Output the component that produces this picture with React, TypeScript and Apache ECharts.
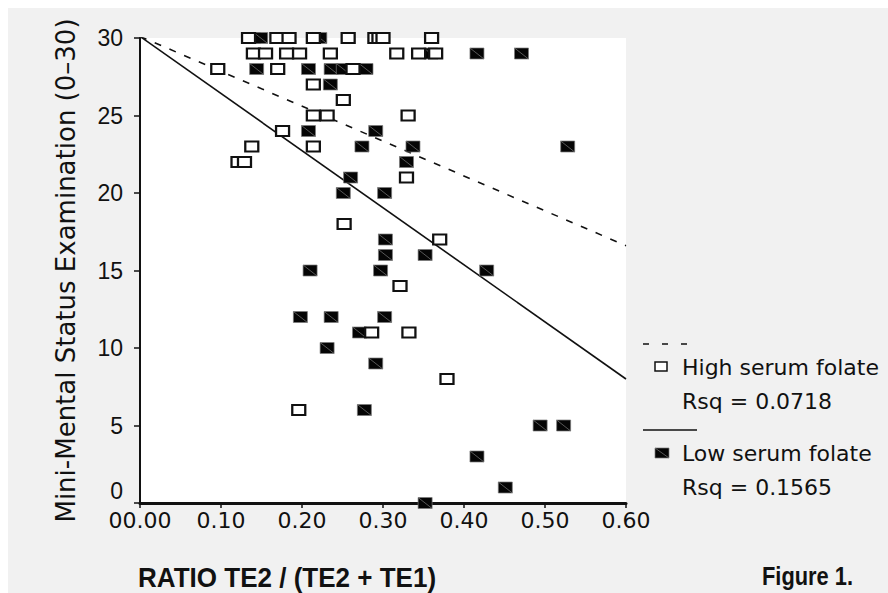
import React, { useEffect, useRef } from "react";
import * as echarts from "echarts";

// High serum folate (open squares): [ratio, MMSE]
const highData: [number, number][] = [
  [0.134, 30], [0.169, 30], [0.184, 30], [0.214, 30], [0.257, 30], [0.29, 30], [0.295, 30], [0.3, 30], [0.36, 30],
  [0.14, 29], [0.155, 29], [0.181, 29], [0.197, 29], [0.235, 29], [0.317, 29], [0.344, 29], [0.365, 29],
  [0.096, 28], [0.17, 28], [0.263, 28],
  [0.214, 27],
  [0.251, 26],
  [0.214, 25], [0.231, 25], [0.331, 25],
  [0.176, 24],
  [0.138, 23], [0.214, 23],
  [0.121, 22], [0.129, 22],
  [0.329, 21],
  [0.252, 18],
  [0.37, 17],
  [0.321, 14],
  [0.286, 11], [0.332, 11],
  [0.379, 8],
  [0.196, 6],
];

// Low serum folate (filled squares)
const lowData: [number, number][] = [
  [0.14, 30], [0.149, 30], [0.222, 30],
  [0.359, 29], [0.416, 29], [0.471, 29],
  [0.144, 28], [0.208, 28], [0.236, 28], [0.251, 28], [0.279, 28],
  [0.235, 27],
  [0.208, 24], [0.291, 24],
  [0.274, 23], [0.337, 23], [0.528, 23],
  [0.329, 22],
  [0.26, 21],
  [0.251, 20], [0.302, 20],
  [0.303, 17],
  [0.303, 16], [0.352, 16],
  [0.21, 15], [0.297, 15], [0.428, 15],
  [0.198, 12], [0.236, 12], [0.302, 12],
  [0.271, 11],
  [0.231, 10],
  [0.291, 9],
  [0.277, 6],
  [0.494, 5], [0.523, 5],
  [0.416, 3],
  [0.451, 1],
  [0.352, 0],
];

// Fitted regression lines (endpoints at x = 0 and x = 0.60)
const fitX = [0, 0.6];
const highFitY = [30.1, 16.6];
const lowFitY = [30.1, 8.0];

const legendTexts = ["High serum folate", "Rsq = 0.0718", "Low serum folate", "Rsq = 0.1565"];
const yTitle = "Mini-Mental Status Examination (0\u201330)";
const xTitle = "RATIO TE2 / (TE2 + TE1)";
const figLabel = "Figure 1.";

const INK = "#111";
const BG = "#f1f1f1";

export default function App() {
  const ref = useRef<HTMLDivElement>(null);

  useEffect(() => {
    if (!ref.current) return;
    const chart = echarts.init(ref.current, null, { renderer: "svg" });
    const legX = 674; // text left in chart coords
    chart.setOption({
      animation: false,
      backgroundColor: BG,
      grid: {
        left: 132,
        top: 30,
        width: 486,
        height: 465,
        show: true,
        backgroundColor: "#ffffff",
        borderWidth: 0,
      },
      xAxis: {
        type: "value",
        min: 0,
        max: 0.6,
        interval: 0.1,
        splitLine: { show: false },
        axisLine: { show: true, onZero: false, lineStyle: { color: INK, width: 3 } },
        axisTick: { show: true, length: 5, lineStyle: { color: INK, width: 1.5 } },
        axisLabel: {
          margin: 6,
          color: INK,
          fontFamily: "DejaVu Sans",
          fontSize: 22,
          formatter: (v: number) => (v === 0 ? "00.00" : v.toFixed(2)),
        },
      },
      yAxis: {
        type: "value",
        min: 0,
        max: 30,
        interval: 5,
        splitLine: { show: false },
        axisLine: { show: true, onZero: false, lineStyle: { color: INK, width: 2 } },
        axisTick: { show: true, length: 6, lineStyle: { color: INK, width: 1.5 } },
        axisLabel: {
          margin: 17,
          color: INK,
          fontFamily: "Liberation Sans",
          fontSize: 23,
          formatter: (v: number) => (v === 0 ? "{z|0}" : String(v)),
          rich: {
            z: { padding: [0, 0, 24, 0], fontFamily: "Liberation Sans", fontSize: 23, color: INK },
          },
        },
        name: yTitle,
        nameLocation: "middle",
        nameGap: 61,
        nameTextStyle: { fontFamily: "DejaVu Sans", fontSize: 26, color: INK },
      },
      series: [
        {
          type: "line",
          data: fitX.map((x, i) => [x, highFitY[i]]),
          symbol: "none",
          silent: true,
          z: 1,
          lineStyle: { color: INK, width: 1.6, type: [7, 9] },
        },
        {
          type: "line",
          data: fitX.map((x, i) => [x, lowFitY[i]]),
          symbol: "none",
          silent: true,
          z: 1,
          lineStyle: { color: INK, width: 1.6, type: "solid" },
        },
        {
          type: "scatter",
          data: lowData,
          clip: false,
          z: 3,
          symbol: "path://M0 0H14V11H0Z M0 0L14 11",
          symbolSize: [14, 11],
          itemStyle: { color: "#050505", borderColor: "#7a7a7a", borderWidth: 0.7, opacity: 1 },
        },
        {
          type: "scatter",
          data: highData,
          clip: false,
          z: 4,
          symbol: "rect",
          symbolSize: [13, 10],
          itemStyle: { color: "#ffffff", borderColor: INK, borderWidth: 2, opacity: 1 },
        },
      ],
      graphic: [
        // legend: dashed line sample
        { type: "line", shape: { x1: 635, y1: 336, x2: 681, y2: 336 }, style: { stroke: INK, lineWidth: 1.5, lineDash: [6, 13] } },
        { type: "rect", shape: { x: 647, y: 354, width: 12, height: 9 }, style: { fill: "#fff", stroke: INK, lineWidth: 1.5 } },
        { type: "text", x: legX, y: 359, style: { text: legendTexts[0], fill: INK, fontFamily: "DejaVu Sans", fontSize: 22, verticalAlign: "middle", align: "left" } },
        { type: "text", x: legX, y: 393, style: { text: legendTexts[1], fill: INK, fontFamily: "DejaVu Sans", fontSize: 22, verticalAlign: "middle", align: "left" } },
        // legend: solid line sample
        { type: "line", shape: { x1: 635, y1: 422, x2: 689, y2: 422 }, style: { stroke: INK, lineWidth: 1.5 } },
        { type: "rect", shape: { x: 647, y: 440, width: 14, height: 10 }, style: { fill: "#050505", stroke: "#7a7a7a", lineWidth: 0.7 } },
        { type: "line", shape: { x1: 647, y1: 440, x2: 661, y2: 450 }, style: { stroke: "#7a7a7a", lineWidth: 0.7 } },
        { type: "text", x: legX, y: 445, style: { text: legendTexts[2], fill: INK, fontFamily: "DejaVu Sans", fontSize: 22, verticalAlign: "middle", align: "left" } },
        { type: "text", x: legX, y: 479, style: { text: legendTexts[3], fill: INK, fontFamily: "DejaVu Sans", fontSize: 22, verticalAlign: "middle", align: "left" } },
        // bottom labels
        { type: "text", x: 130, y: 570, scaleX: 0.93, style: { text: xTitle, fill: INK, fontFamily: "Liberation Sans", fontWeight: "bold", fontSize: 28, verticalAlign: "middle", align: "left" } },
        { type: "text", x: 754, y: 568, scaleX: 0.84, style: { text: figLabel, fill: INK, fontFamily: "Liberation Sans", fontWeight: "bold", fontSize: 26, verticalAlign: "middle", align: "left" } },
      ],
    });
    return () => chart.dispose();
  }, []);

  return (
    <div
      ref={ref}
      style={{ position: "fixed", left: 8, top: 8, width: 880, height: 585 }}
    />
  );
}
